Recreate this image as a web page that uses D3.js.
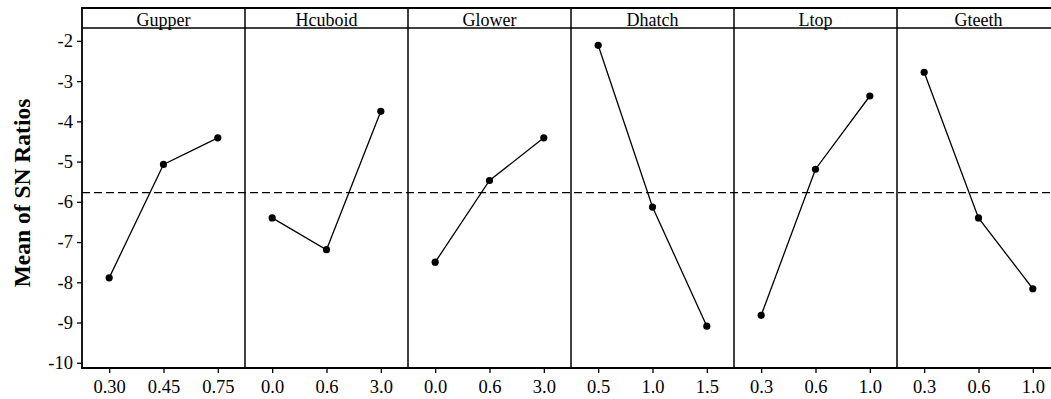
<!DOCTYPE html>
<html>
<head>
<meta charset="utf-8">
<script src="https://cdn.jsdelivr.net/npm/d3@7/dist/d3.min.js"></script>
<style>
  html, body { margin: 0; padding: 0; background: #fff; }
  svg { display: block; }
  text { font-family: "Liberation Serif", "Times New Roman", serif; fill: #000; }
</style>
</head>
<body>
<svg id="chart" width="1051" height="399"></svg>
<script>
const factors = ["Gupper", "Hcuboid", "Glower", "Dhatch", "Ltop", "Gteeth"];
const levels = [
  ["0.30", "0.45", "0.75"],
  ["0.0", "0.6", "3.0"],
  ["0.0", "0.6", "3.0"],
  ["0.5", "1.0", "1.5"],
  ["0.3", "0.6", "1.0"],
  ["0.3", "0.6", "1.0"]
];
const gupperMeans  = [-7.89, -5.07, -4.41];
const hcuboidMeans = [-6.40, -7.19, -3.75];
const glowerMeans  = [-7.50, -5.47, -4.41];
const dhatchMeans  = [-2.11, -6.13, -9.09];
const ltopMeans    = [-8.82, -5.19, -3.37];
const gteethMeans  = [-2.78, -6.40, -8.16];
const means = [gupperMeans, hcuboidMeans, glowerMeans, dhatchMeans, ltopMeans, gteethMeans];
const overallMean = -5.77;
const yTicks = [-10, -9, -8, -7, -6, -5, -4, -3, -2];
const yTitle = "Mean of SN Ratios";

const svg = d3.select("#chart");
const left = 82, panelW = 163, frameTop = 8, headerH = 20;
const plotTop = frameTop + headerH, plotBottom = 368;
const totalW = panelW * factors.length;

const y = d3.scaleLinear().domain([-10.13, -1.68]).range([plotBottom, plotTop]);

const panelScale = d3.scaleBand().domain(factors).range([left, left + totalW]).padding(0);

// Y axis
const yAxis = d3.axisLeft(y).tickValues(yTicks).tickSize(5).tickSizeOuter(0).tickFormat(d3.format("d"));
const gy = svg.append("g").attr("transform", `translate(${left},0)`).call(yAxis);
gy.select(".domain").remove();
gy.selectAll(".tick line").attr("stroke", "#000").attr("stroke-width", 1.3);
gy.selectAll(".tick text").attr("font-size", "18.5px").attr("x", -9)
  .text(d => d < 0 ? "-" + Math.abs(d) : d);

// y title
svg.append("text")
  .attr("transform", `translate(30,193) rotate(-90)`)
  .attr("text-anchor", "middle")
  .attr("font-size", "23.5px")
  .attr("font-weight", "bold")
  .text(yTitle);

// overall mean dashed line
svg.append("line")
  .attr("x1", left).attr("x2", left + totalW)
  .attr("y1", y(overallMean)).attr("y2", y(overallMean))
  .attr("stroke", "#000").attr("stroke-width", 1.3)
  .attr("stroke-dasharray", "8,4");

factors.forEach((f, i) => {
  const x0 = panelScale(f);
  const g = svg.append("g").attr("transform", `translate(${x0},0)`);
  const x = d3.scalePoint().domain(levels[i]).range([0, panelW]).padding(0.5);

  // header
  g.append("line").attr("x1", 0).attr("x2", panelW).attr("y1", plotTop).attr("y2", plotTop)
    .attr("stroke", "#000").attr("stroke-width", 1.5);
  g.append("text").attr("x", panelW / 2).attr("y", frameTop + 18)
    .attr("text-anchor", "middle").attr("font-size", "18px").text(f);

  // x axis
  const xAxis = d3.axisBottom(x).tickSize(5).tickSizeOuter(0);
  const gx = g.append("g").attr("transform", `translate(0,${plotBottom})`).call(xAxis);
  gx.select(".domain").remove();
  gx.selectAll(".tick line").attr("stroke", "#000").attr("stroke-width", 1.3);
  gx.selectAll(".tick text").attr("font-size", "18.5px").attr("dy", "0").attr("y", 25);

  // line + points
  const pts = levels[i].map((l, j) => [x(l), y(means[i][j])]);
  g.append("path").attr("d", d3.line()(pts))
    .attr("fill", "none").attr("stroke", "#000").attr("stroke-width", 1.3);
  g.selectAll("circle").data(pts).enter().append("circle")
    .attr("cx", d => d[0]).attr("cy", d => d[1]).attr("r", 3.6).attr("fill", "#000");

  // panel left border
  g.append("line").attr("x1", 0).attr("x2", 0).attr("y1", frameTop).attr("y2", plotBottom)
    .attr("stroke", "#000").attr("stroke-width", i === 0 ? 1.8 : 1.5);
});

// right border (off-canvas end) and top/bottom frame lines
svg.append("line").attr("x1", left + totalW).attr("x2", left + totalW)
  .attr("y1", frameTop).attr("y2", plotBottom).attr("stroke", "#000").attr("stroke-width", 1.5);
svg.append("line").attr("x1", left - 0.9).attr("x2", left + totalW)
  .attr("y1", frameTop).attr("y2", frameTop).attr("stroke", "#000").attr("stroke-width", 1.8);
svg.append("line").attr("x1", left - 0.9).attr("x2", left + totalW)
  .attr("y1", plotBottom).attr("y2", plotBottom).attr("stroke", "#000").attr("stroke-width", 1.8);
</script>
</body>
</html>
